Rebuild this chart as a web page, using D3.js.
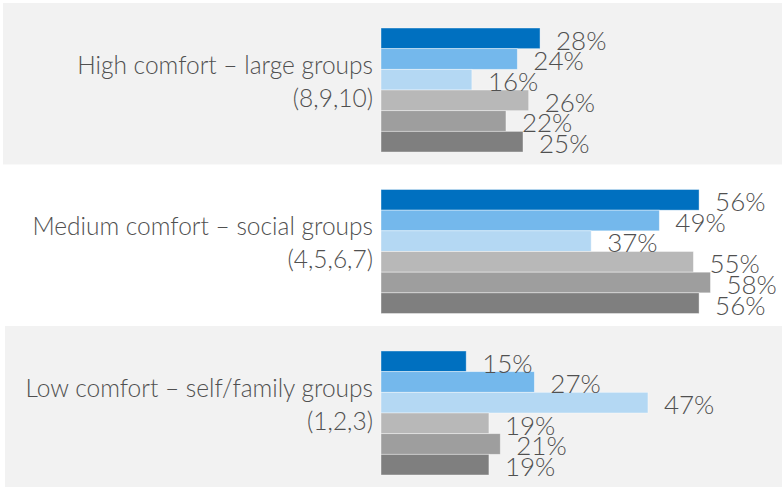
<!DOCTYPE html>
<html>
<head>
<meta charset="utf-8">
<script src="https://cdn.jsdelivr.net/npm/d3@7"></script>
<style>
  body { margin: 0; background: #fff; }
  text { font-family: Lato, "Open Sans", sans-serif; font-weight: 300; fill: #505050; }
</style>
</head>
<body>
<svg id="chart"></svg>
<script>
const svgWidth = 782, svgHeight = 487;

// groups, top to bottom
const groups = ["High comfort \u2013 large groups", "Medium comfort \u2013 social groups", "Low comfort \u2013 self/family groups"];
const groupCodes = ["(8,9,10)", "(4,5,6,7)", "(1,2,3)"];
const seriesNames = ["s1", "s2", "s3", "s4", "s5", "s6"];
const seriesColors = ["#0070C0", "#74B8EC", "#B4D8F3", "#B8B8B8", "#9E9E9E", "#7F7F7F"];

// percent values per group, one per series
const highValues = [28, 24, 16, 26, 22, 25];
const mediumValues = [56, 49, 37, 55, 58, 56];
const lowValues = [15, 27, 47, 19, 21, 19];
const allValues = [highValues, mediumValues, lowValues];

const chart = d3.select("#chart")
    .attr("width", svgWidth)
    .attr("height", svgHeight);

var xScale = d3.scaleLinear().domain([0, 100]).range([381, 949]);
var yGroup = d3.scaleBand().domain(groups).range([28, 475]).paddingInner(0.232).paddingOuter(0);
var yBar = d3.scaleBand().domain(seriesNames).range([0, yGroup.bandwidth()]);

// grey panels behind 1st and 3rd group
chart.selectAll("rect.panel")
    .data(groups.filter((g, i) => i % 2 == 0))
    .enter().append("rect")
    .attr("class", "panel")
    .attr("x", (g, i) => i == 0 ? 3 : 5)
    .attr("y", g => yGroup(g) - 25)
    .attr("width", svgWidth)
    .attr("height", yGroup.step())
    .attr("fill", "#F2F2F2");

var grp = chart.selectAll("g.group")
    .data(groups)
    .enter().append("g")
    .attr("class", "group")
    .attr("transform", g => "translate(0," + yGroup(g) + ")");

grp.selectAll("rect.bar")
    .data((g, gi) => allValues[gi].map((v, i) => ({ s: seriesNames[i], v: v, c: seriesColors[i] })))
    .enter().append("rect")
    .attr("class", "bar")
    .attr("x", xScale(0))
    .attr("y", d => yBar(d.s))
    .attr("width", d => xScale(d.v) - xScale(0))
    .attr("height", yBar.bandwidth())
    .attr("fill", d => d.c)
    .attr("stroke", "rgba(255,255,255,0.5)")
    .attr("stroke-width", 0.8);

grp.selectAll("text.val")
    .data((g, gi) => allValues[gi].map((v, i) => ({ s: seriesNames[i], v: v })))
    .enter().append("text")
    .attr("class", "val")
    .attr("x", d => xScale(d.v) + 16)
    .attr("y", d => yBar(d.s) + yBar.bandwidth() + 1)
    .style("font-size", "26px")
    .text(d => d.v + "%");

// category labels, two lines, right aligned
var mid = yGroup.bandwidth() / 2;
grp.append("text")
    .attr("x", 373)
    .attr("y", mid - 16)
    .attr("text-anchor", "end")
    .style("font-size", "24.5px")
    .text(g => g);
grp.append("text")
    .attr("x", 373)
    .attr("y", mid + 17)
    .attr("text-anchor", "end")
    .style("font-size", "24.5px")
    .text((g, i) => groupCodes[i]);
</script>
</body>
</html>
